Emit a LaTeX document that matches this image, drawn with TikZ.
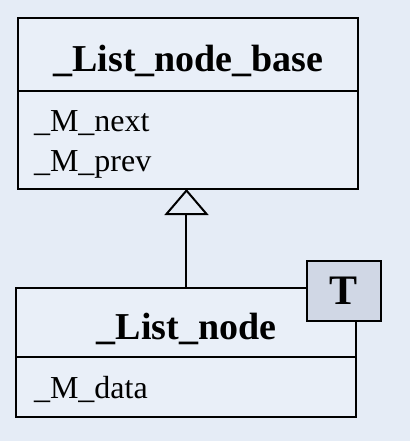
\documentclass[tikz,border=0pt]{standalone}
\usepackage{fontspec}
\setmainfont{Liberation Serif}
\usetikzlibrary{positioning}
\usetikzlibrary{arrows.meta}
\definecolor{slidebg}{RGB}{229,236,246}
\definecolor{boxfill}{RGB}{233,239,248}
\definecolor{paramfill}{RGB}{208,215,229}
\begin{document}
\begin{tikzpicture}[x=0.5pt, y=-0.5pt,
                    every node/.style={line width=1pt, outer sep=0pt},
                    classname/.style={draw, fill=boxfill, minimum width=170pt, inner sep=0pt, text height=17pt, text depth=0.5pt, font=\fontsize{19}{22}\bfseries\selectfont},
                    members/.style={draw, fill=boxfill, minimum width=170pt, inner sep=0pt},
                    member/.style={anchor=base west, inner sep=0pt, font=\fontsize{16}{19}\selectfont},
                    tparam/.style={draw, fill=paramfill, minimum width=37pt, minimum height=30pt, inner sep=0pt, font=\fontsize{21}{24}\bfseries\selectfont},
                    inherits/.style={-{Triangle[open, length=13pt, width=22pt]}, line width=1pt}
                ]
                \fill[slidebg] (0,0) rectangle (410,441);
                \useasboundingbox (0,0) rectangle (410,441);
                % base class
                \node[classname, minimum height=36.5pt] (base) at (188.5,54.5) {\_List\_node\_base};
                \node[members, minimum height=49pt, below=0pt of base] (basemem) {};
                \node[member] (next) at (34,131) {\_M\_next};
                \node[member] (prev) at (34,171) {\_M\_prev};
                % derived class
                \node[classname, minimum height=34.5pt] (node) at (186.5,322.5) {\_List\_node};
                \node[members, minimum height=30pt, below=0pt of node] (nodemem) {};
                \node[member] (data) at (34,398) {\_M\_data};
                \node[tparam] (param) at (344,291) {T};
                % inheritance
                \draw[inherits] (node.north) -- (node.north |- basemem.south);
            \end{tikzpicture}
\end{document}
